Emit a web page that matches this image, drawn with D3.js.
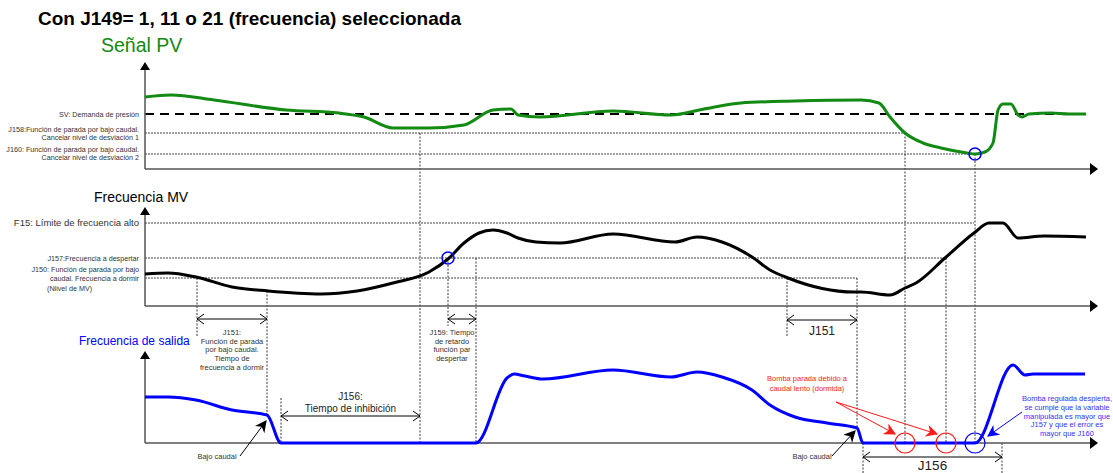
<!DOCTYPE html>
<html>
<head>
<meta charset="utf-8">
<script src="https://cdn.jsdelivr.net/npm/d3@7"></script>
<style>
  body { margin: 0; background: #fff; }
  svg { font-family: "Liberation Sans", Arial, sans-serif; }
</style>
</head>
<body>
<script>
// time axis is shared by the three panels (arbitrary units)
const pvT = [0, 26, 69, 141, 194, 219, 248, 284, 319, 348, 366, 373, 395, 468, 526, 559, 596, 650, 716, 734, 745, 760, 778, 796, 822, 830, 840, 848, 853, 858, 866, 873, 877, 884, 906, 924, 941]
const pvV = [72, 74, 69, 59, 56, 52, 41, 41, 44, 59, 60, 54, 52, 58, 54, 60, 66, 68, 69, 66, 52, 36, 26, 21, 16, 15, 17, 26, 59, 65, 65, 54, 52, 55, 56, 55, 55]

const mvT = [0, 23, 51, 87, 123, 176, 212, 248, 284, 303, 319, 334, 348, 362, 373, 391, 415, 468, 530, 552, 577, 607, 625, 643, 709, 716, 745, 760, 771, 800, 829, 844, 858, 873, 899, 941]
const mvV = [32, 33, 29, 19, 15, 12, 15, 23, 34, 47, 63, 73, 76, 73, 68, 64, 63, 72, 64, 69, 64, 49, 36, 28, 14, 14, 11, 18, 23, 48, 73, 83, 83, 68, 70, 69]

const outT = [0, 23, 51, 87, 122, 136, 331, 362, 369, 380, 398, 468, 526, 552, 577, 607, 625, 650, 682, 712, 718, 830, 868, 880, 888, 940]
const outV = [46, 46, 43, 33, 28, 0, 0, 65, 69, 67, 64, 73, 66, 71, 66, 53, 38, 26, 20, 15, 0, 0, 78, 68, 69, 69]

// reference levels
const pvLevelNames = ["SV", "J158", "J160"]
const pvLevelValues = [55, 36, 15]
const mvLevelNames = ["F15", "J157", "J150"]
const mvLevelValues = [83, 48, 28]

// event times
const evSleepStart = 52, evSleep = 122, evOff = 136, evInhibEnd = 275
const evWake = 303, evWakeEnd = 331
const evSleepStart2 = 642, evSleep2 = 712, evOff2 = 718
const evCheck1 = 760, evCheck2 = 801, evWake2 = 830, evInhibEnd2 = 857

const w = 1113, h = 473
const green = "#138a13", blue = "#0000ff", red = "#ff1a1a"

const x = d3.scaleLinear().domain([0, 955]).range([145, 1100])
const yPV = d3.scaleLinear().domain([0, 100]).range([169, 69])
const yMV = d3.scaleLinear().domain([0, 100]).range([306, 206])
const yOut = d3.scaleLinear().domain([0, 100]).range([443, 343])

const svg = d3.select("body").append("svg").attr("width", w).attr("height", h)

// arrowhead markers
const defs = svg.append("defs")
function solidMarker(id, color) {
  defs.append("marker").attr("id", id).attr("viewBox", "0 0 10 10")
    .attr("refX", 9).attr("refY", 5).attr("markerWidth", 12).attr("markerHeight", 12)
    .attr("markerUnits", "userSpaceOnUse").attr("orient", "auto")
    .append("path").attr("d", "M0,0 L10,5 L0,10 L3,5 Z").attr("fill", color)
}
solidMarker("ahBlack", "#000")
solidMarker("ahRed", red)
solidMarker("ahBlue", blue)

const gGuides = svg.append("g")
const gAxes = svg.append("g")
const gLines = svg.append("g")
const gText = svg.append("g")

function hline(y, x0, x1, dash, sw, col) {
  gGuides.append("line").attr("x1", x0).attr("x2", x1).attr("y1", y).attr("y2", y)
    .attr("stroke", col || "#333").attr("stroke-width", sw || 1).attr("stroke-dasharray", dash)
}
function vline(t, y0, y1) {
  gGuides.append("line").attr("x1", x(t)).attr("x2", x(t)).attr("y1", y0).attr("y2", y1)
    .attr("stroke", "#222").attr("stroke-width", 0.9).attr("stroke-dasharray", "2,1.5")
}
function axisPair(yScale, topY) {
  const x0 = x(0), y0 = yScale(0)
  gAxes.append("line").attr("x1", x0).attr("x2", x0).attr("y1", y0).attr("y2", topY + 6)
    .attr("stroke", "#555").attr("stroke-width", 1.5)
  gAxes.append("path").attr("d", `M${x0},${topY} L${x0 - 5},${topY + 8} L${x0 + 5},${topY + 8} Z`).attr("fill", "#000")
  gAxes.append("line").attr("x1", x0).attr("x2", x.range()[1] - 6).attr("y1", y0).attr("y2", y0)
    .attr("stroke", "#555").attr("stroke-width", 1.5)
  const xe = x.range()[1] - 2
  gAxes.append("path").attr("d", `M${xe},${y0} L${xe - 8},${y0 - 6} L${xe - 8},${y0 + 6} Z`).attr("fill", "#000")
}
function label(txt, px, py, size, anchor, col, weight) {
  return gText.append("text").attr("x", px).attr("y", py).attr("font-size", size)
    .attr("text-anchor", anchor || "start").attr("fill", col || "#333")
    .attr("font-weight", weight || "normal").text(txt)
}
function labelLines(lines, px, py, size, lh, anchor, col) {
  lines.forEach((l, i) => label(l, px, py + i * lh, size, anchor, col))
}
function dimArrow(t0, t1, y) {
  const a = x(t0), b = x(t1)
  const g = gGuides.append("g").attr("stroke", "#000").attr("stroke-width", 1).attr("fill", "none")
  g.append("line").attr("x1", a).attr("x2", b).attr("y1", y).attr("y2", y)
  g.append("path").attr("d", `M${a + 7},${y - 5} L${a},${y} L${a + 7},${y + 5}`)
  g.append("path").attr("d", `M${b - 7},${y - 5} L${b},${y} L${b - 7},${y + 5}`)
}
function pointer(x1, y1, x2, y2, col, id) {
  gLines.append("line").attr("x1", x1).attr("y1", y1).attr("x2", x2).attr("y2", y2)
    .attr("stroke", col).attr("stroke-width", 1).attr("marker-end", `url(#${id})`)
}

// title and panel names
label("Con J149= 1, 11 o 21 (frecuencia) seleccionada", 38, 25, 19, "start", "#000", "bold")
label("Señal PV", 101, 52, 19.5, "start", green)
label("Frecuencia MV", 94, 202, 14, "start", "#000")
label("Frecuencia de salida", 79, 345, 12, "start", blue)

// axes
axisPair(yPV, 62)
axisPair(yMV, 207)
axisPair(yOut, 351)

// PV reference levels
const pvEnds = [945, evCheck1, evWake2]
pvLevelValues.forEach((v, i) => {
  if (pvLevelNames[i] === "SV") hline(yPV(v), x(0), x(pvEnds[i]), "9,6", 2, "#000")
  else hline(yPV(v), x(0), x(pvEnds[i]), "2,1", 1, "#444")
})
label("SV: Demanda de presión", 139, yPV(pvLevelValues[0]) + 2.5, 7.2, "end")
labelLines(["J158:Función de parada por bajo caudal.", "Cancelar nivel de desviación 1"], 139, yPV(pvLevelValues[1]) - 1, 7.2, 8, "end")
labelLines(["J160: Función de parada por bajo caudal.", "Cancelar nivel de desviación 2"], 139, yPV(pvLevelValues[2]) - 2, 7.2, 8, "end")

// MV reference levels
const mvEnds = [evWake2 - 1, evCheck2, evSleep2]
mvLevelValues.forEach((v, i) => hline(yMV(v), x(0), x(mvEnds[i]), "2,1", 1, "#444"))
label("F15: Límite de frecuencia alto", 139, yMV(mvLevelValues[0]) + 3, 9.5, "end")
label("J157:Frecuencia a despertar", 139, yMV(mvLevelValues[1]) + 2.5, 7.2, "end")
labelLines(["J150: Función de parada por bajo", "caudal. Frecuencia a dormir"], 139, yMV(mvLevelValues[2]) - 6, 7.2, 8.5, "end")
label("(Niivel de MV)", 47, yMV(mvLevelValues[2]) + 12.5, 7.2, "start")

// vertical event guides
vline(evSleepStart, yMV(mvLevelValues[2]), 337)
vline(evSleep, yMV(15), yOut(28))
vline(evInhibEnd, yPV(pvLevelValues[1]), yOut(0))
vline(evWake, yMV(mvLevelValues[1]), 326)
vline(evWakeEnd, yMV(mvLevelValues[1]), yOut(0))
vline(evOff, 398, yOut(0))
vline(evSleepStart2, yMV(mvLevelValues[2]), 337)
vline(evSleep2, yMV(mvLevelValues[2]), yOut(15))
vline(evCheck1, yPV(pvLevelValues[1]), yOut(0))
vline(evCheck2, yMV(mvLevelValues[1]), yOut(0))
vline(evWake2, yPV(pvLevelValues[2]), yOut(0))
vline(evOff2, yOut(0), 473)
vline(evInhibEnd2, yOut(0), 473)

// signal curves
const lineGen = (ys) => d3.line().x(d => x(d[0])).y(d => ys(d[1])).curve(d3.curveMonotoneX)
gLines.append("path").datum(d3.zip(pvT, pvV)).attr("d", lineGen(yPV))
  .attr("fill", "none").attr("stroke", green).attr("stroke-width", 3)
gLines.append("path").datum(d3.zip(mvT, mvV)).attr("d", lineGen(yMV))
  .attr("fill", "none").attr("stroke", "#000").attr("stroke-width", 3)
gLines.append("path").datum(d3.zip(outT, outV)).attr("d", lineGen(yOut))
  .attr("fill", "none").attr("stroke", blue).attr("stroke-width", 3)

// markers on curves
gLines.append("circle").attr("cx", x(evWake)).attr("cy", yMV(mvLevelValues[1])).attr("r", 6)
  .attr("fill", "none").attr("stroke", blue).attr("stroke-width", 1.5)
gLines.append("circle").attr("cx", x(evWake2)).attr("cy", yPV(pvLevelValues[2])).attr("r", 6)
  .attr("fill", "none").attr("stroke", blue).attr("stroke-width", 1.5)
;[[evCheck1, red], [evCheck2, red], [evWake2, blue]].forEach(([t, c]) => {
  gLines.append("circle").attr("cx", x(t)).attr("cy", yOut(0)).attr("r", 10)
    .attr("fill", "none").attr("stroke", c).attr("stroke-width", 1.2)
})

// dimension arrows
dimArrow(evSleepStart, evSleep, 319)
dimArrow(evWake, evWakeEnd, 319)
dimArrow(evSleepStart2, evSleep2, 320)
dimArrow(evOff, evInhibEnd, 416)
dimArrow(evOff2, evInhibEnd2, 457)

labelLines(["J151:", "Función de parada", "por bajo caudal.", "Tiempo de", "frecuencia a dormir"], x(87), 335, 7.5, 8.7, "middle")
labelLines(["J159: Tiempo", "de retardo", "función par", "despertar"], 452, 335, 7.5, 8.7, "middle")
label("J151", x((evSleepStart2 + evSleep2) / 2), 335, 12, "middle", "#222")
labelLines(["J156:", "Tiempo de inhibición"], x((evOff + evInhibEnd) / 2), 400, 10, 11.5, "middle", "#222")
label("J156", x((evOff2 + evInhibEnd2) / 2), 470, 13.5, "middle", "#222")

// annotations
label("Bajo caudal", 217, 459, 7.5, "middle")
pointer(240, 456, 266, 421, "#000", "ahBlack")
label("Bajo caudal", 812, 459, 7.5, "middle")
pointer(832, 456, 855, 431, "#000", "ahBlack")

labelLines(["Bomba parada debido a", "caudal lento (dormida)"], 807, 381, 7.5, 9.5, "middle", red)
pointer(836, 402, 895, 434, red, "ahRed")
pointer(836, 402, 937, 434, red, "ahRed")

labelLines(["Bomba regulada despierta,", "se cumple que la variable", "manipulada es mayor que", "J157 y que el error es", "mayor que J160"], 1067, 401, 7.5, 8.8, "middle", "#3333ff")
pointer(1022, 412, 988, 436, blue, "ahBlue")
</script>
</body>
</html>
